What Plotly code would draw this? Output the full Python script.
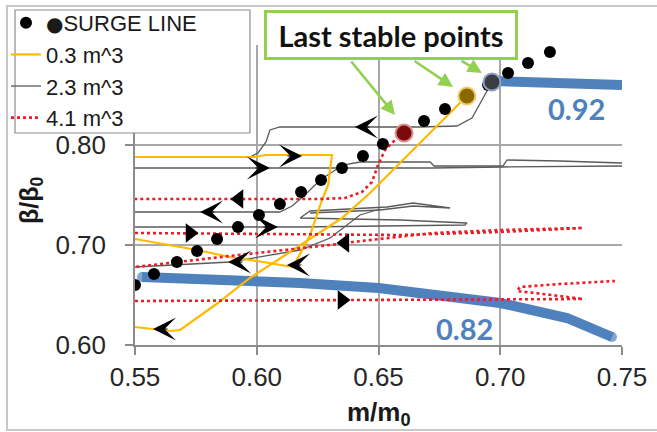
import plotly.graph_objects as go

# ---- data -----------------------------------------------------------------
# Surge line (measured surge points)
surge_x = [0.5500, 0.5578, 0.5672, 0.5755, 0.5837, 0.5923, 0.6009, 0.6095, 0.6182, 0.6264,
           0.6350, 0.6436, 0.6518, 0.6605, 0.6687, 0.6773, 0.6863, 0.6950, 0.7032, 0.7114, 0.7204]
surge_y = [0.660, 0.671, 0.683, 0.694, 0.706, 0.718, 0.730, 0.741, 0.753, 0.765,
           0.777, 0.789, 0.801, 0.812, 0.824, 0.836, 0.849, 0.860, 0.872, 0.882, 0.893]

# Speed lines
speed92_x = [0.6966, 0.7200, 0.7500]
speed92_y = [0.864, 0.862, 0.860]
speed82_x = [0.5529, 0.6000, 0.6178, 0.6500, 0.7000, 0.7274, 0.7459]
speed82_y = [0.668, 0.664, 0.662, 0.657, 0.642, 0.627, 0.608]

# Plenum volume 0.3 m^3 (None separates branches)
v03_x = [0.5500, 0.5993, 0.6034, 0.6309, 0.6293, 0.6268, 0.6219, 0.6149, 0.6026, 0.5890, 0.5755, 0.5500, None,
         0.6863, 0.6683, 0.6465, 0.6350, 0.6178, 0.5972, 0.5829, 0.5685, 0.5644, 0.5500]
v03_y = [0.788, 0.788, 0.790, 0.790, 0.760, 0.745, 0.710, 0.678, 0.683, 0.688, 0.695, 0.706, None,
         0.849, 0.805, 0.752, 0.727, 0.700, 0.667, 0.640, 0.615, 0.614, 0.618]

# Plenum volume 2.3 m^3
v23_x = [0.6966, 0.6925, 0.6884, 0.6822, 0.6670, 0.6095, 0.6054, 0.6038, 0.6005, 0.5972, 0.5500, None,
         0.5500, 0.6720, 0.7011, 0.7500, None,
         0.5500, 0.6095, 0.6145, 0.6198, 0.6260, 0.6354, 0.6424, 0.6712, 0.6728, 0.7011, 0.7028, 0.7245, 0.7500, None,
         0.5500, 0.6178, 0.6855, 0.6863, 0.6588, 0.6178, 0.6219, 0.6535, 0.6642, 0.6794, 0.6642, 0.6506, 0.6219, None,
         0.5500, 0.5890, 0.6178, 0.6301, 0.6424, 0.6506]
v23_y = [0.863, 0.845, 0.827, 0.819, 0.818, 0.818, 0.815, 0.803, 0.792, 0.788, 0.788, None,
         0.777, 0.777, 0.778, 0.779, None,
         0.733, 0.733, 0.739, 0.750, 0.765, 0.780, 0.783, 0.783, 0.779, 0.779, 0.785, 0.784, 0.782, None,
         0.718, 0.718, 0.720, 0.722, 0.725, 0.727, 0.734, 0.738, 0.742, 0.737, 0.739, 0.735, 0.732, None,
         0.678, 0.683, 0.695, 0.707, 0.730, 0.736]

# Plenum volume 4.1 m^3
v41_x = [0.6605, 0.6568, 0.6527, 0.6498, 0.6473, 0.6432, 0.6362, 0.6260, 0.5500, None,
         0.5500, 0.6588, 0.6999, 0.7340, 0.6999, 0.6724, 0.6395, 0.6301, 0.5890, 0.5500, None,
         0.5500, 0.7340, 0.7245, 0.7069, 0.7081, 0.7245, 0.7471]
v41_y = [0.812, 0.805, 0.795, 0.780, 0.763, 0.753, 0.747, 0.746, 0.746, None,
         0.712, 0.710, 0.713, 0.717, 0.715, 0.712, 0.703, 0.700, 0.689, 0.678, None,
         0.644, 0.646, 0.649, 0.654, 0.658, 0.661, 0.664]

# Last stable operating points (4.1, 0.3, 2.3 m^3)
stable_x = [0.6605, 0.6863, 0.6966]
stable_y = [0.812, 0.849, 0.863]

# Flow direction markers
tri_right_x = [0.5726, 0.6350]
tri_right_y = [0.712, 0.645]
tri_left_x = [0.5927, 0.6362]
tri_left_y = [0.746, 0.702]
chev_right_x = [0.6186, 0.6054, 0.6087]
chev_right_y = [0.789, 0.777, 0.718]
chev_left_x = [0.6403, 0.5767, 0.5882, 0.6124, 0.5574]
chev_left_y = [0.818, 0.733, 0.683, 0.680, 0.616]

# Callout arrows: tail and head of each pointer
call_tail_x = [0.6383, 0.6642, 0.6835]
call_tail_y = [0.885, 0.885, 0.885]
call_head_x = [0.6568, 0.6806, 0.6925]
call_head_y = [0.830, 0.858, 0.872]

x_ticks = [0.55, 0.60, 0.65, 0.70, 0.75]
y_ticks = [0.60, 0.70, 0.80, 0.90]

# ---- styling --------------------------------------------------------------
BLUE = "#4f81bd"
ORANGE = "#ffb900"
GREY = "#5a5a5a"
RED = "#ee1c25"
GREEN = "#92d050"
FONT = "Liberation Sans"

fig = go.Figure()

fig.add_trace(go.Scatter(x=speed92_x, y=speed92_y, mode="lines+markers", showlegend=False,
                         line=dict(color=BLUE, width=10),
                         marker=dict(color=BLUE, size=[10] + [0] * (len(speed92_x) - 1),
                                     line=dict(width=0))))
fig.add_trace(go.Scatter(x=speed82_x, y=speed82_y, mode="lines+markers", showlegend=False,
                         line=dict(color=BLUE, width=10),
                         marker=dict(color=BLUE, size=[10] + [0] * (len(speed82_x) - 2) + [10],
                                     line=dict(width=0))))

fig.add_trace(go.Scatter(x=v23_x, y=v23_y, mode="lines", name="2.3 m^3", legendrank=3,
                         line=dict(color=GREY, width=1.3)))
fig.add_trace(go.Scatter(x=v03_x, y=v03_y, mode="lines", name="0.3 m^3", legendrank=2,
                         line=dict(color=ORANGE, width=2.2)))
fig.add_trace(go.Scatter(x=v41_x, y=v41_y, mode="lines", name="4.1 m^3", legendrank=4,
                         line=dict(color=RED, width=2.6, dash="dot")))

fig.add_trace(go.Scatter(x=surge_x, y=surge_y, mode="markers",
                         name="<span style=\"font-family:DejaVu Sans;font-size:20px\">●</span>SURGE LINE",
                         legendrank=1, marker=dict(color="black", size=12)))

fig.add_trace(go.Scatter(x=stable_x, y=stable_y, mode="markers", showlegend=False,
                         marker=dict(size=17,
                                     color=["#7d0a0a", "#8a6a00", "#3a3d44"],
                                     line=dict(color=["#d98c8c", "#f0cc6a", "#8ea2c2"], width=2))))

fig.add_trace(go.Scatter(x=tri_right_x, y=tri_right_y, mode="markers", showlegend=False,
                         marker=dict(symbol="triangle-right", color="black", size=17)))
fig.add_trace(go.Scatter(x=tri_left_x, y=tri_left_y, mode="markers", showlegend=False,
                         marker=dict(symbol="triangle-left", color="black", size=17)))

annotations = []
for xv, yv in zip(chev_right_x, chev_right_y):
    annotations.append(dict(x=xv, y=yv, xref="x", yref="y", ax=-16, ay=0, text="",
                            showarrow=True, arrowhead=3, arrowsize=3.2, arrowwidth=1.2,
                            arrowcolor="black"))
for xv, yv in zip(chev_left_x, chev_left_y):
    annotations.append(dict(x=xv, y=yv, xref="x", yref="y", ax=16, ay=0, text="",
                            showarrow=True, arrowhead=3, arrowsize=3.2, arrowwidth=1.2,
                            arrowcolor="black"))
for tx, ty, hx, hy in zip(call_tail_x, call_tail_y, call_head_x, call_head_y):
    annotations.append(dict(x=hx, y=hy, xref="x", yref="y", ax=tx, ay=ty, axref="x", ayref="y",
                            text="", showarrow=True, arrowhead=2, arrowsize=1.1, arrowwidth=2.6,
                            arrowcolor=GREEN))

annotations += [
    dict(x=0.5257, y=1.0333, xref="paper", yref="paper", text="<b>Last stable points</b>",
         showarrow=False, font=dict(family="Lato", size=29, color="#111111"), bgcolor="white",
         bordercolor=GREEN, borderwidth=3, width=246, height=42, xanchor="center", yanchor="middle"),
    dict(x=0.7315, y=0.837, xref="x", yref="y", text="<b>0.92</b>", showarrow=False,
         font=dict(family="Lato", size=29, color=BLUE)),
    dict(x=0.6855, y=0.617, xref="x", yref="y", text="<b>0.82</b>", showarrow=False,
         font=dict(family="Lato", size=29, color=BLUE)),
    dict(x=0.5, y=-0.227, xref="paper", yref="paper", text="<b>m/m<sub>0</sub></b>", showarrow=False,
         font=dict(family=FONT, size=26, color="#1a1a1a"), yanchor="middle"),
    dict(x=-0.2136, y=0.483, xref="paper", yref="paper", text="<b>β/β<sub>0</sub></b>", showarrow=False,
         textangle=-90, font=dict(family=FONT, size=25, color="#1a1a1a"), xanchor="center", yanchor="middle"),
]

axis_common = dict(showgrid=True, gridcolor="#a8a8a8", gridwidth=1.5, zeroline=False,
                   showline=True, linecolor="#8c8c8c", linewidth=1.5,
                   ticks="outside", ticklen=8, tickcolor="#8c8c8c", tickwidth=1.5,
                   tickfont=dict(family=FONT, size=26, color="#262626"), tickformat=".2f")

fig.update_layout(
    width=657, height=432,
    margin=dict(l=135, r=35, t=45, b=87, autoexpand=False),
    paper_bgcolor="white", plot_bgcolor="white",
    xaxis=dict(range=[0.55, 0.75], tickvals=x_ticks, **axis_common),
    yaxis=dict(range=[0.60, 0.90], tickvals=y_ticks, ticklabelstandoff=14, **axis_common),
    legend=dict(x=-0.2649, y=1.1433, xanchor="left", yanchor="top", bgcolor="rgba(0,0,0,0)",
                borderwidth=0, tracegroupgap=0,
                font=dict(family=FONT, size=22, color="#1a1a1a")),
    annotations=annotations,
    shapes=[
        # outer chart frame
        dict(type="rect", xref="paper", yref="paper", x0=-0.2628, x1=1.09, y0=-0.2833, y1=1.13,
             line=dict(color="#c8c8c8", width=2), layer="below"),
        # legend box
        dict(type="rect", xref="paper", yref="paper", x0=-0.2464, x1=0.2361, y0=0.7067, y1=1.1167,
             line=dict(color="#8c8c8c", width=1.2), fillcolor="white", layer="above"),
    ],
    showlegend=True,
)

fig.write_html("out.html")
